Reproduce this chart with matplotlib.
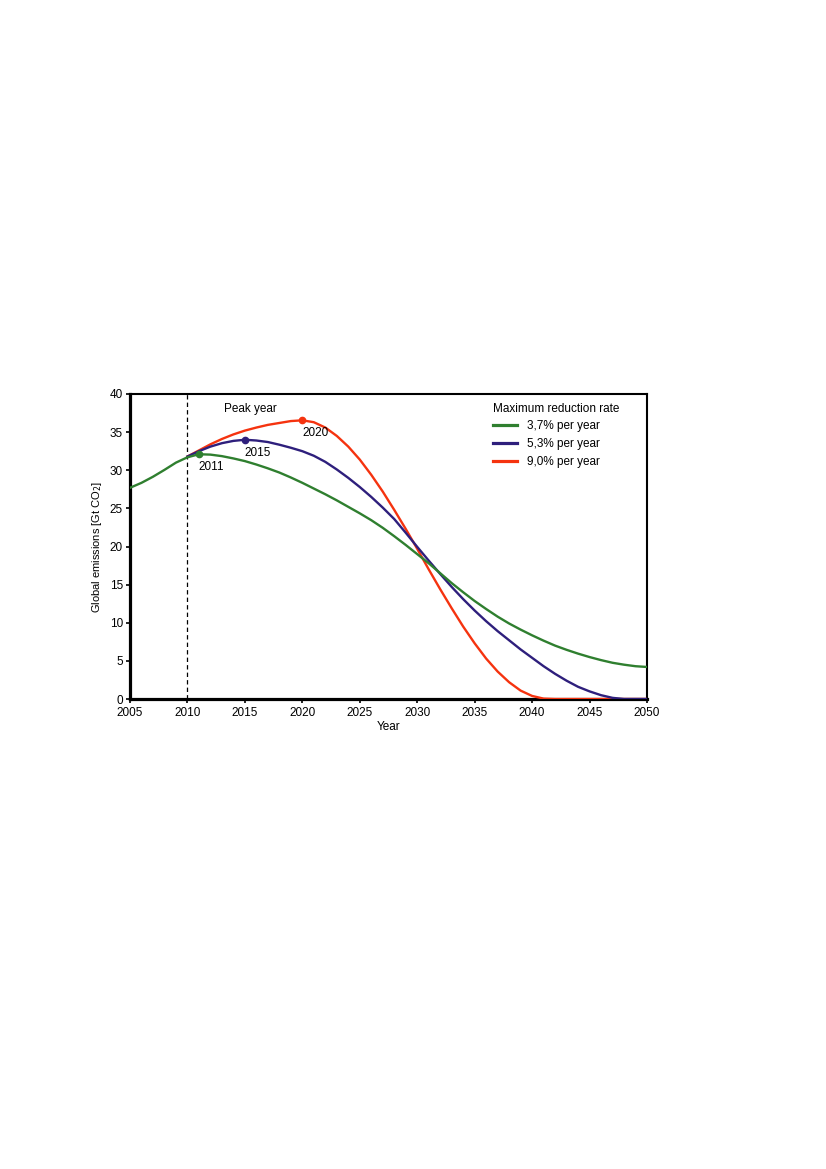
import matplotlib
matplotlib.use("Agg")
import matplotlib.pyplot as plt

plt.rcParams['font.family'] = ['Liberation Sans', 'DejaVu Sans']

years = list(range(2005, 2051))

green = [27.7, 28.35, 29.15, 30.05, 31.0, 31.7, 32.1, 32.05, 31.85, 31.55,
         31.2, 30.75, 30.25, 29.7, 29.05, 28.35, 27.6, 26.85, 26.05, 25.2,
         24.35, 23.45, 22.45, 21.35, 20.2, 19.0, 17.8, 16.5, 15.2, 14.0,
         12.85, 11.8, 10.8, 9.9, 9.1, 8.35, 7.65, 7.0, 6.45, 5.95,
         5.5, 5.1, 4.75, 4.5, 4.3, 4.2]

blue_years = list(range(2010, 2051))
blue = [31.8, 32.5, 33.1, 33.55, 33.85, 34.0, 33.9, 33.7, 33.35, 32.95,
        32.5, 31.9, 31.1, 30.1, 29.0, 27.8, 26.5, 25.1, 23.6, 21.8,
        19.95, 18.15, 16.4, 14.7, 13.1, 11.6, 10.2, 8.9, 7.7, 6.5,
        5.4, 4.3, 3.3, 2.4, 1.6, 1.0, 0.5, 0.15, 0.0, 0.0, 0.0]

red_years = list(range(2010, 2051))
red = [31.8, 32.6, 33.4, 34.1, 34.7, 35.2, 35.6, 35.95, 36.2, 36.45,
       36.55, 36.3, 35.6, 34.5, 33.1, 31.4, 29.4, 27.2, 24.8, 22.3,
       19.7, 17.0, 14.4, 11.9, 9.5, 7.3, 5.3, 3.6, 2.2, 1.1,
       0.4, 0.05, 0.0, 0.0, 0.0, 0.0, 0.0, 0.0, 0.0, 0.0, 0.0]

series_labels = ["3,7% per year", "5,3% per year", "9,0% per year"]
peak_years = [2011, 2015, 2020]
peak_values = [32.1, 34.0, 36.55]

c_green = "#2f7f2f"
c_blue = "#2e1f7c"
c_red = "#f5330f"

fs = 8.5

fig = plt.figure(figsize=(8.26, 11.69), dpi=100)
ax = fig.add_axes([130/826, 1 - 699/1169, 517/826, 305/1169])

ax.axvline(2010, color="black", lw=0.9, ls=(0, (3.5, 2.5)), zorder=1)

ax.plot(red_years, red, color=c_red, lw=1.7, label=series_labels[2], zorder=3)
ax.plot(blue_years, blue, color=c_blue, lw=1.7, label=series_labels[1], zorder=3)
ax.plot(years, green, color=c_green, lw=1.7, label=series_labels[0], zorder=3)

for py, pv, c in zip(peak_years, peak_values, [c_green, c_blue, c_red]):
    ax.plot([py], [pv], "o", color=c, ms=4.5, zorder=4)

ax.text(2011, 32.1 - 0.9, "2011", ha="left", va="top", fontsize=fs)
ax.text(2015, 34.0 - 0.9, "2015", ha="left", va="top", fontsize=fs)
ax.text(2020, 36.55 - 0.9, "2020", ha="left", va="top", fontsize=fs)
ax.text(2013.2, 38.0, "Peak year", ha="left", va="center", fontsize=fs)

ax.set_xlim(2005, 2050)
ax.set_ylim(0, 40)
ax.set_xticks(range(2005, 2051, 5))
ax.set_yticks(range(0, 41, 5))
ax.tick_params(axis="both", direction="out", length=3, width=1.2, labelsize=fs)
ax.tick_params(axis="x", pad=2.5)
ax.tick_params(axis="y", pad=2)
for side in ["left", "bottom"]:
    ax.spines[side].set_linewidth(2.3)
for side in ["top", "right"]:
    ax.spines[side].set_linewidth(1.5)

ax.set_xlabel("Year", fontsize=fs, labelpad=2)
ax.set_ylabel("Global emissions [Gt CO$_2$]", fontsize=8, labelpad=4)

handles, labels = ax.get_legend_handles_labels()
order = [2, 1, 0]
leg = ax.legend([handles[i] for i in order], [labels[i] for i in order],
                title="Maximum reduction rate", loc="upper left",
                frameon=False, fontsize=fs, title_fontsize=fs,
                handlelength=2.0, handletextpad=0.85, labelspacing=0.5,
                bbox_to_anchor=(0.702, 0.972), borderaxespad=0, borderpad=0)
for line in leg.get_lines():
    line.set_linewidth(2.3)
leg._legend_box.align = "left"

fig.savefig("out.png", dpi=100)
